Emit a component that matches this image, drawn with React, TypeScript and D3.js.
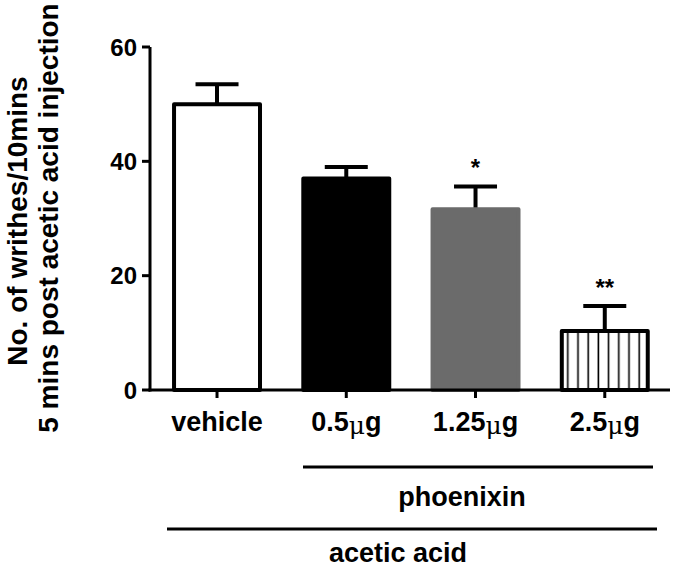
import React from "react";
import * as d3 from "d3";

const categories = ["vehicle", "0.5", "1.25", "2.5"];
const values = [50, 37, 31.6, 10.3];
const errors = [3.5, 2.0, 4.0, 4.4];
const stars = ["", "", "*", "**"];
const yTicks = [0, 20, 40, 60];
const fills = ["#ffffff", "#000000", "#6b6b6b", "url(#vhatch)"];

const W = 675;
const H = 569;
const FONT = "'Liberation Sans', Arial, sans-serif";

export default function App() {
  const y = d3.scaleLinear().domain([0, 60]).range([390, 47]);
  const x = d3
    .scaleBand<string>()
    .domain(categories)
    .range([152.4, 669.4])
    .paddingInner(0.304)
    .paddingOuter(0.152);
  const bw = x.bandwidth();
  const capW = 43;

  return (
    <svg
      width={W}
      height={H}
      style={{ position: "absolute", left: 0, top: 0, background: "#fff" }}
      fontFamily={FONT}
      fontWeight="bold"
    >
      <defs>
        <pattern id="vhatch" patternUnits="userSpaceOnUse" width={10.2} height={10} x={x("2.5")! + 3}>
          <rect width={10.2} height={10} fill="#fff" />
          <line x1={5} x2={5} y1={0} y2={10} stroke="#000" strokeWidth={1.6} />
        </pattern>
      </defs>
      <rect width={W} height={H} fill="#fff" />

      {/* Y label */}
      <g transform="translate(27,221) rotate(-90)">
        <text textAnchor="middle" fontSize={28} fill="#000">
          No. of writhes/10mins
        </text>
      </g>
      <g transform="translate(58,218) rotate(-90)">
        <text textAnchor="middle" fontSize={28} fill="#000">
          5 mins post acetic acid injection
        </text>
      </g>

      {/* error bars (drawn under bars) */}
      {categories.map((c, i) => {
        const cx = x(c)! + bw / 2;
        return (
          <g key={"e" + c} stroke="#000" strokeWidth={4}>
            <line x1={cx} x2={cx} y1={y(values[i])} y2={y(values[i] + errors[i])} />
            <line x1={cx - capW / 2} x2={cx + capW / 2} y1={y(values[i] + errors[i])} y2={y(values[i] + errors[i])} />
          </g>
        );
      })}

      {/* bars */}
      {categories.map((c, i) => {
        const x0 = x(c)!;
        const gray = i === 2;
        return (
          <rect
            key={"b" + c}
            x={x0 + 2}
            y={y(values[i])}
            width={bw - 4}
            height={y(0) - y(values[i])}
            fill={fills[i]}
            stroke={gray ? "#6b6b6b" : "#000"}
            strokeWidth={4}
            strokeLinejoin="round"
          />
        );
      })}

      {/* stars */}
      {categories.map((c, i) =>
        stars[i] ? (
          <text
            key={"s" + c}
            x={x(c)! + bw / 2}
            y={y(values[i] + errors[i]) - 10}
            textAnchor="middle"
            fontSize={24}
            fill="#000"
          >
            {stars[i]}
          </text>
        ) : null
      )}

      {/* Y axis */}
      <line x1={150} x2={150} y1={y(60)} y2={y(0) + 1.5} stroke="#000" strokeWidth={3} />
      {yTicks.map((t) => (
        <g key={"t" + t}>
          <line x1={142} x2={150} y1={y(t)} y2={y(t)} stroke="#000" strokeWidth={3} />
          <text x={137} y={y(t)} dy="0.36em" textAnchor="end" fontSize={24} fill="#000">
            {t}
          </text>
        </g>
      ))}

      {/* X axis */}
      <line x1={148.5} x2={670} y1={y(0)} y2={y(0)} stroke="#000" strokeWidth={3} />
      {categories.map((c) => (
        <line key={"xt" + c} x1={x(c)! + bw / 2} x2={x(c)! + bw / 2} y1={y(0)} y2={y(0) + 8} stroke="#000" strokeWidth={3} />
      ))}

      {/* category labels */}
      {categories.map((c, i) => (
        <text key={"l" + c} x={x(c)! + bw / 2} y={431} textAnchor="middle" fontSize={27} fill="#000">
          {i === 0 ? (
            c
          ) : (
            <>
              {c}
              <tspan fontFamily="'DejaVu Serif', serif" fontWeight="normal" fontSize={25} dy={3}>
                μ
              </tspan>
              <tspan dy={-3}>g</tspan>
            </>
          )}
        </text>
      ))}

      {/* group lines */}
      <line x1={303} x2={653} y1={467} y2={467} stroke="#000" strokeWidth={3} />
      <text x={462} y={506} textAnchor="middle" fontSize={27} fill="#000">
        phoenixin
      </text>
      <line x1={167} x2={657} y1={529} y2={529} stroke="#000" strokeWidth={3} />
      <text x={398} y={562} textAnchor="middle" fontSize={27} fill="#000">
        acetic acid
      </text>
    </svg>
  );
}
